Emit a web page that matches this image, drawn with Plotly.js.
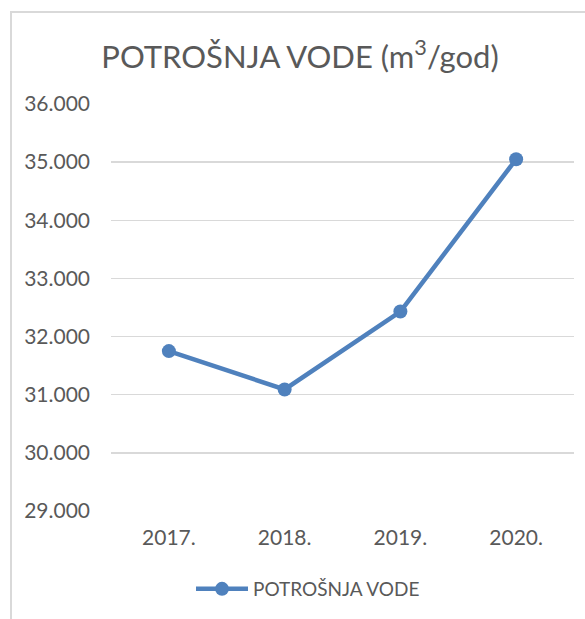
<!DOCTYPE html>
<html>
<head>
<meta charset="utf-8">
<script src="https://cdn.plot.ly/plotly-3.0.1.min.js"></script>
<style>
  html, body { margin: 0; padding: 0; width: 585px; height: 619px; overflow: hidden; background: #fff; }
  #frame { position: absolute; left: 10px; top: 11px; width: 600px; height: 640px; border: 2px solid #d9d9d9; box-sizing: border-box; }
  #chart { position: absolute; left: 0; top: 0; width: 585px; height: 619px; }
</style>
</head>
<body>
<div id="frame"></div>
<div id="chart"></div>
<script>
const categories = ["2017.", "2018.", "2019.", "2020."];
const values = [31750, 31090, 32430, 35050];
const seriesName = "POTROŠNJA VODE";
const titleText = "POTROŠNJA VODE (m<sup>3</sup>/god)";
const yTicks = [29000, 30000, 31000, 32000, 33000, 34000, 35000, 36000];

const textColor = "#595959";
const lineColor = "#4F81BD";
const fontFamily = "Lato, 'Open Sans', 'DejaVu Sans', sans-serif";

const trace = {
  x: categories,
  y: values,
  type: "scatter",
  mode: "lines+markers",
  name: seriesName,
  line: { color: lineColor, width: 4.5 },
  marker: { color: lineColor, size: 14 }
};

const layout = {
  width: 585,
  height: 619,
  margin: { l: 111, r: 11, t: 104, b: 108 },
  paper_bgcolor: "rgba(0,0,0,0)",
  plot_bgcolor: "rgba(0,0,0,0)",
  separators: ",.",
  font: { family: fontFamily, color: textColor, size: 20 },
  title: {
    text: titleText,
    font: { family: fontFamily, size: 31, color: textColor },
    xref: "container", yref: "container",
    x: 300 / 585, xanchor: "center",
    y: 1 - 57 / 619, yanchor: "middle"
  },
  xaxis: {
    type: "category",
    range: [-0.5, 3.5],
    showgrid: false,
    showline: false,
    zeroline: false,
    ticks: "",
    ticklabelstandoff: 12,
    tickfont: { family: fontFamily, size: 21, color: textColor }
  },
  yaxis: {
    range: [29000, 36000],
    tickvals: yTicks,
    tickformat: ",d",
    showgrid: true,
    gridcolor: "#d9d9d9",
    gridwidth: 1.5,
    zeroline: false,
    showline: false,
    ticks: "",
    ticklabelstandoff: 20,
    tickfont: { family: fontFamily, size: 21, color: textColor }
  },
  showlegend: true,
  legend: {
    orientation: "h",
    xref: "container", yref: "container",
    x: 308 / 585, xanchor: "center",
    y: 1 - 589 / 619, yanchor: "middle",
    itemwidth: 52,
    font: { family: fontFamily, size: 19, color: textColor },
    bgcolor: "rgba(0,0,0,0)"
  }
};

Plotly.newPlot("chart", [trace], layout, { displayModeBar: false, staticPlot: true });
</script>
</body>
</html>
